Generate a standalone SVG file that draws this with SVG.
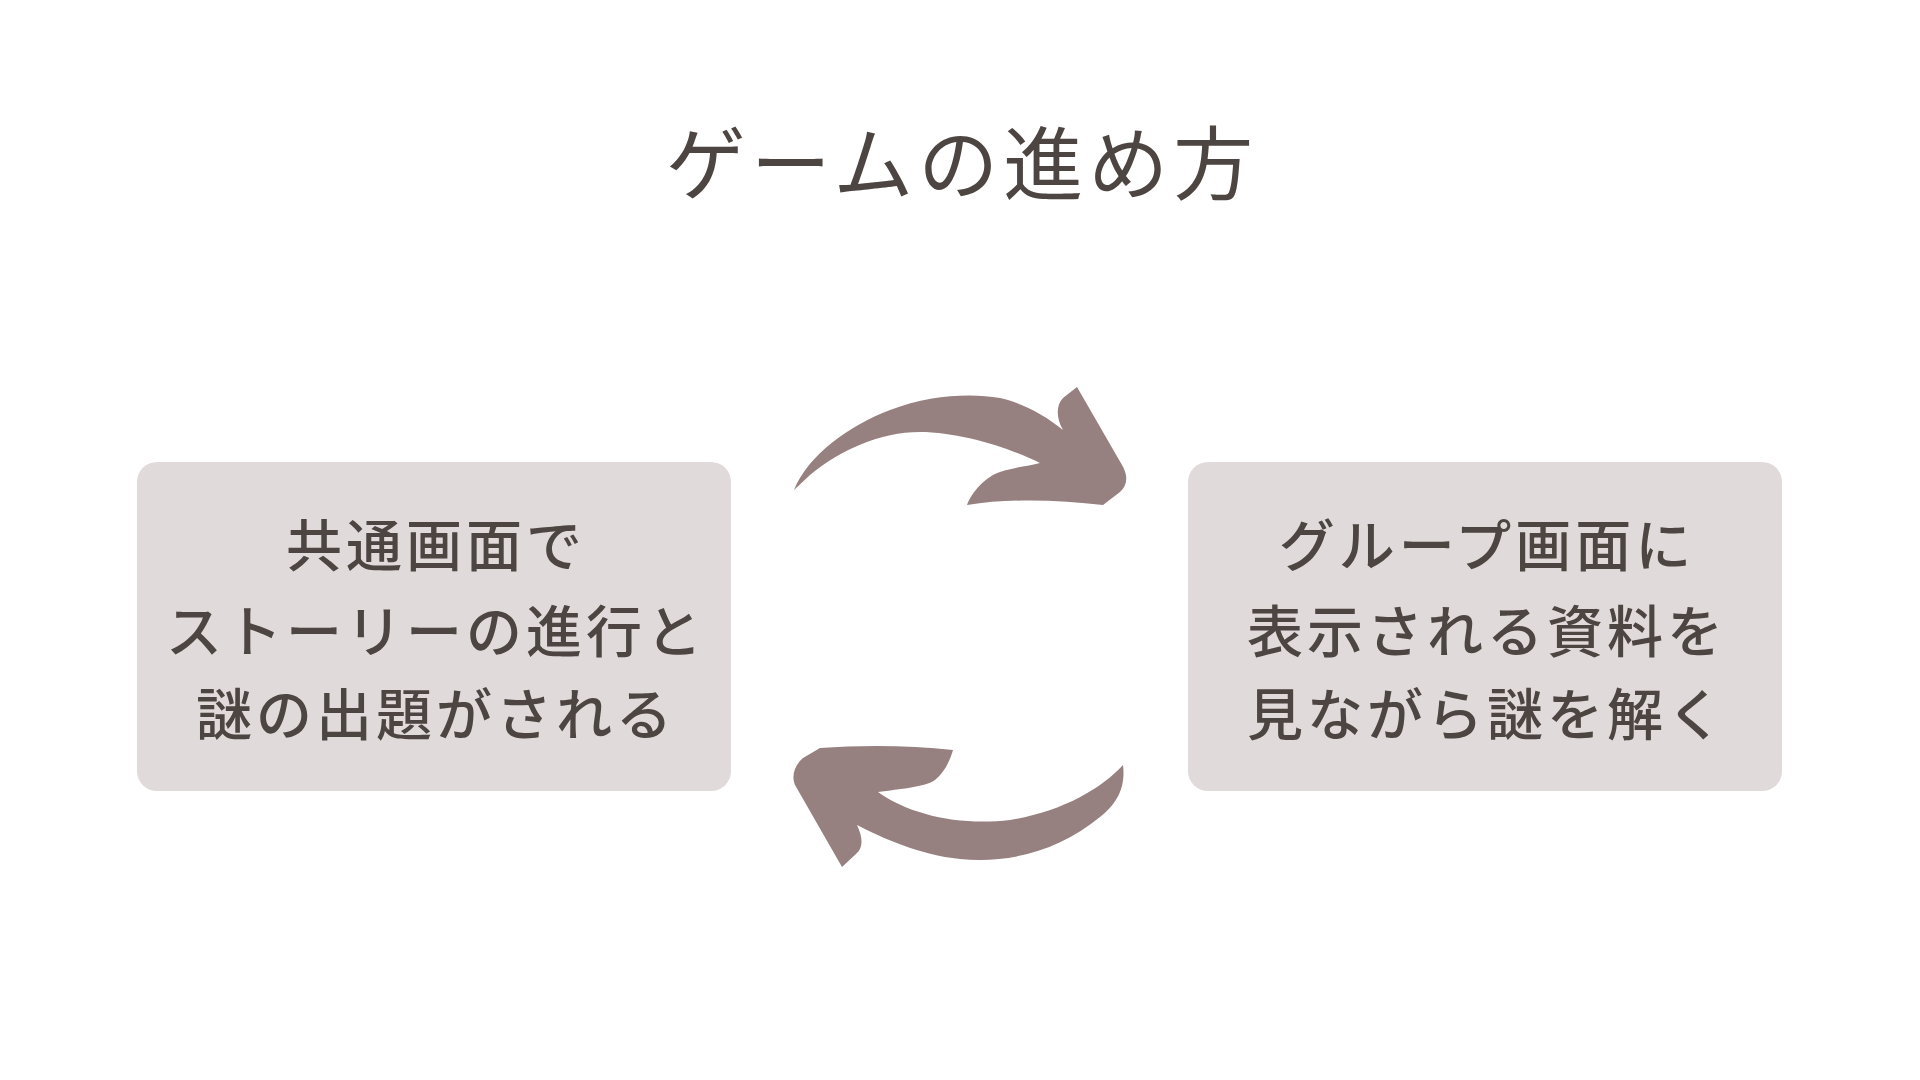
<svg xmlns="http://www.w3.org/2000/svg" width="1920" height="1080" viewBox="0 0 1920 1080">
<style>
.t{font-family:"Noto Sans CJK JP","Noto Sans",sans-serif;fill:#4d4541;text-anchor:middle;font-weight:500}
.title{font-size:80px;letter-spacing:5px;font-weight:400}
.lbl{font-size:56px;letter-spacing:4px}
.box{fill:#e0dada}
.arw{fill:#978080}
</style>
<rect width="1920" height="1080" fill="#ffffff"/>
<text class="t title" x="962" y="193">ゲームの進め方</text>
<g id="node-left">
<rect class="box" x="137" y="462" width="594" height="329" rx="20"/>
<text class="t lbl" x="436" y="566">共通画面で</text>
<text class="t lbl" x="436" y="652">ストーリーの進行と</text>
<text class="t lbl" x="436" y="735">謎の出題がされる</text>
</g>
<g id="node-right">
<rect class="box" x="1188" y="462" width="594" height="329" rx="20"/>
<text class="t lbl" x="1487" y="566">グループ画面に</text>
<text class="t lbl" x="1487" y="652">表示される資料を</text>
<text class="t lbl" x="1487" y="735">見ながら謎を解く</text>
</g>
<g id="connectors">
<path class="arw" d="M794,490 C808,455 850,425 890,410 C930,395 970,393 1000,398 C1020,402 1045,415 1063,430 C1056,418 1056,405 1063,398 L1077,387 L1122,465 C1128,475 1128,485 1120,492 L1103,505 C1060,500 1010,498 967,505 C972,492 985,477 1000,472 C1015,467 1030,466 1040,463 C1010,448 960,432 920,432 C880,432 840,450 810,475 Z"/>
<path class="arw" d="M1123,765 C1100,790 1060,812 1010,820 C960,826 910,815 878,792 C900,789 925,787 935,780 C945,772 950,760 953,750 C910,745 860,745 820,748 L803,758 C795,765 791,775 795,785 L842,867 L857,853 C863,847 863,838 857,825 C880,837 920,855 960,859 C1010,864 1060,850 1100,817 C1115,805 1126,790 1123,765 Z"/>
</g>
</svg>
